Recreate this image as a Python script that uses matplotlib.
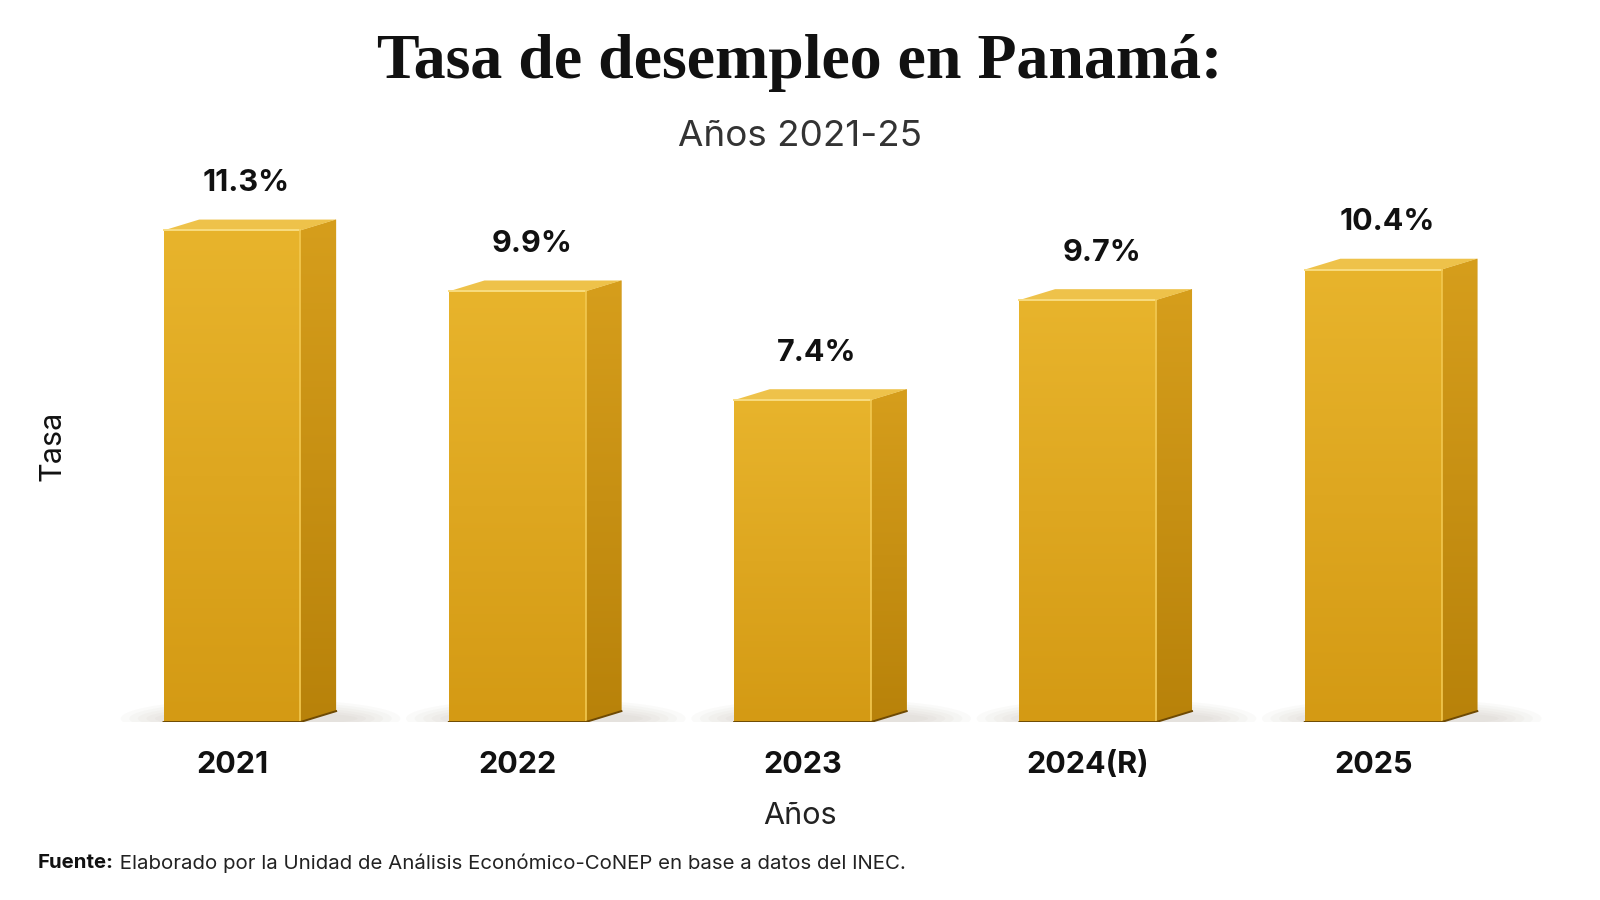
import matplotlib
matplotlib.use("Agg")
import matplotlib.pyplot as plt
import numpy as np
from matplotlib.patches import Polygon, Ellipse

years = ["2021", "2022", "2023", "2024(R)", "2025"]
rates = [11.3, 9.9, 7.4, 9.7, 10.4]
value_labels = ["11.3%", "9.9%", "7.4%", "9.7%", "10.4%"]

title = "Tasa de desempleo en Panamá:"
subtitle = "Años 2021-25"
source_bold = "Fuente:"
source_text = " Elaborado por la Unidad de Análisis Económico-CoNEP en base a datos del INEC."

plt.rcParams["font.family"] = ["Inter", "DejaVu Sans"]

fig = plt.figure(figsize=(16, 9), dpi=100)
fig.patch.set_facecolor("white")

# axes placed so the bar baseline sits ~178 px above the bottom edge
left_px, right_px = 50, 1560
ax = fig.add_axes([left_px / 1600, 178 / 900, (right_px - left_px) / 1600, 542 / 900])
x = np.arange(len(years))
w = 0.48
dx, dy = 0.125, 0.25

px_per_unit = 285.3
first_px = 232
ax.set_xlim(-(first_px - left_px) / px_per_unit, (right_px - first_px) / px_per_unit)
ax.set_ylim(0, 542 / 43.5)
ax.set_facecolor("none")
for s in ax.spines.values():
    s.set_visible(False)
ax.set_yticks([])


def gradient(c1, c2, n=256):
    c1 = np.array(matplotlib.colors.to_rgb(c1))
    c2 = np.array(matplotlib.colors.to_rgb(c2))
    t = np.linspace(0, 1, n)[:, None]
    g = c1 * (1 - t) + c2 * t
    return g[:, None, :]


for xi, h in zip(x, rates):
    xl, xr = xi - w / 2, xi + w / 2
    # soft shadow on the floor
    for k in range(6):
        ax.add_patch(Ellipse((xi + 0.1, 0.08), w + 0.5 - k * 0.06, 0.9 - k * 0.12,
                             color="#7a6a50", alpha=0.03, lw=0, zorder=1))
    # front face
    bar = ax.bar(xi, h, width=w, color="#DDA620", lw=0, zorder=3)[0]
    im = ax.imshow(gradient("#E8B42C", "#D49A14"), extent=[xl, xr, 0, h],
                   aspect="auto", origin="upper", zorder=3.1)
    im.set_clip_path(bar)
    # side face
    side = Polygon([(xr, 0), (xr + dx, dy), (xr + dx, h + dy), (xr, h)],
                   closed=True, color="#C89012", lw=0, zorder=3)
    ax.add_patch(side)
    im2 = ax.imshow(gradient("#D69E1C", "#B8820A"), extent=[xr, xr + dx, 0, h + dy],
                    aspect="auto", origin="upper", zorder=3.1)
    im2.set_clip_path(side)
    # top face
    top = Polygon([(xl, h), (xr, h), (xr + dx, h + dy), (xl + dx, h + dy)],
                  closed=True, color="#EEC24A", lw=0, zorder=3.2)
    ax.add_patch(top)
    # highlight and base edges
    ax.plot([xl, xr], [h, h], color="#F8DC80", lw=1.4, zorder=3.3)
    ax.plot([xr, xr], [0, h], color="#F2C850", lw=1.2, zorder=3.3)
    ax.plot([xl, xr, xr + dx], [0, 0, dy], color="#6E4A04", lw=1.4, zorder=3.3)

for xi, h, lab in zip(x, rates, value_labels):
    ax.annotate(lab, (xi + 0.05, h), xytext=(0, 34), textcoords="offset points",
                ha="center", va="center", fontsize=22, fontweight="bold",
                color="#111111", zorder=5)

ax.set_xticks(x)
ax.set_xticklabels(years, fontsize=22, fontweight="bold", color="#111111")
ax.tick_params(axis="x", length=0, pad=21)

fig.text(0.5, 1 - 63 / 900, title, ha="center", va="center", fontsize=46,
         fontweight="bold", family=["Liberation Serif", "DejaVu Serif"], color="#111111")
fig.text(0.5, 1 - 137 / 900, subtitle, ha="center", va="center", fontsize=26.5,
         color="#333333")
fig.text(800 / 1600, 1 - 816 / 900, "Años", ha="center", va="center", fontsize=22,
         color="#222222")
fig.text(53 / 1600, 1 - 446 / 900, "Tasa", ha="center", va="center", fontsize=22,
         rotation=90, color="#111111")
t1 = fig.text(38 / 1600, 1 - 863 / 900, source_bold, ha="left", va="center",
              fontsize=14.7, fontweight="bold", color="#111111")
fig.canvas.draw()
bb = t1.get_window_extent()
fig.text(bb.x1 / 1600, 1 - 863 / 900, source_text, ha="left", va="center",
         fontsize=14.7, color="#222222")

fig.savefig("out.png", dpi=100, facecolor="white")
